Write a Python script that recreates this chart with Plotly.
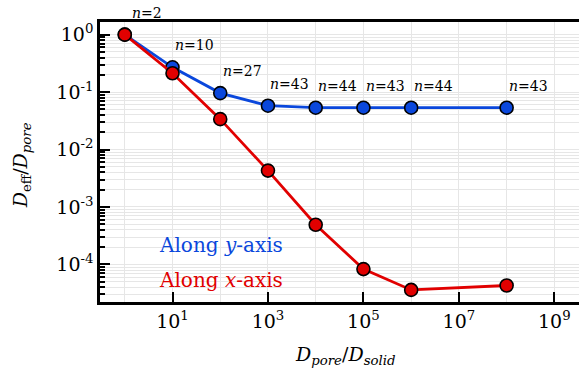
import math
import plotly.graph_objects as go

ratio = [1, 10, 100, 1e3, 1e4, 1e5, 1e6, 1e8]
d_along_y = [1.0, 0.27, 0.096, 0.058, 0.0535, 0.0535, 0.0535, 0.0535]
d_along_x = [1.0, 0.213, 0.0338, 0.0043, 0.00049, 8.3e-5, 3.6e-5, 4.3e-5]
n_labels = ["2", "10", "27", "43", "44", "43", "44", "43"]

x_tickvals = [1e1, 1e3, 1e5, 1e7, 1e9]
x_ticktext = ["10<sup>1</sup>", "10<sup>3</sup>", "10<sup>5</sup>", "10<sup>7</sup>", "10<sup>9</sup>"]
y_tickvals = [1, 1e-1, 1e-2, 1e-3, 1e-4]
y_ticktext = ["10<sup>0</sup>", "10<sup>-1</sup>", "10<sup>-2</sup>", "10<sup>-3</sup>", "10<sup>-4</sup>"]

BLUE = "#0a47dc"
RED = "#e10000"
FONT = "DejaVu Serif"

# body margin is removed by post_script, so page pixels == figure pixels
L, R, T, B = 100, 579, 22, 302
W, H = R - L, B - T

fig = go.Figure()
fig.add_trace(go.Scatter(x=ratio, y=d_along_y, mode="lines+markers",
                         line=dict(color=BLUE, width=2.8),
                         marker=dict(size=13, color=BLUE, line=dict(color="black", width=1.6)),
                         showlegend=False))
fig.add_trace(go.Scatter(x=ratio, y=d_along_x, mode="lines+markers",
                         line=dict(color=RED, width=2.8),
                         marker=dict(size=13, color=RED, line=dict(color="black", width=1.6)),
                         showlegend=False))

for xv, yv, n in zip(ratio, d_along_y, n_labels):
    fig.add_annotation(x=math.log10(xv), y=math.log10(yv), xref="x", yref="y",
                       text=f"<i>n</i>={n}", showarrow=False, xshift=22, yshift=22,
                       xanchor="center", yanchor="middle",
                       font=dict(family=FONT, size=14, color="black"))


def px(x):
    return (x - L) / W


def py(y):
    return (B - y) / H


fig.add_annotation(x=px(220), y=py(245), xref="paper", yref="paper", text="Along <i>y</i>-axis",
                   showarrow=False, xanchor="center", yanchor="middle",
                   font=dict(family=FONT, size=20, color=BLUE))
fig.add_annotation(x=px(220), y=py(280), xref="paper", yref="paper", text="Along <i>x</i>-axis",
                   showarrow=False, xanchor="center", yanchor="middle",
                   font=dict(family=FONT, size=20, color=RED))
fig.add_annotation(x=px(343), y=py(355), xref="paper", yref="paper",
                   text="<i>D</i><sub><i>pore</i></sub>/<i>D</i><sub><i>solid</i></sub>",
                   showarrow=False, xanchor="center", yanchor="middle",
                   font=dict(family=FONT, size=19, color="black"))
fig.add_annotation(x=px(22), y=py(165), xref="paper", yref="paper",
                   text="<i>D</i><sub>eff</sub>/<i>D</i><sub><i>pore</i></sub>",
                   showarrow=False, xanchor="center", yanchor="middle", textangle=-90,
                   font=dict(family=FONT, size=19, color="black"))

GRID = "#e6e6e6"
minor_y = [m * 10 ** e for e in range(-5, 1) for m in range(2, 10)]
minor_x = [10 ** e for e in range(0, 10)]

fig.update_xaxes(type="log", range=[-0.519, 9.6], automargin=False,
                 tickmode="array", tickvals=x_tickvals, ticktext=x_ticktext,
                 ticks="inside", ticklen=10, tickwidth=2, tickcolor="black",
                 showline=True, linecolor="black", linewidth=2.5, mirror=True,
                 showgrid=True, gridcolor=GRID, gridwidth=1, zeroline=False,
                 minor=dict(tickvals=minor_x, ticks="", showgrid=True, gridcolor=GRID, gridwidth=1),
                 tickfont=dict(family=FONT, size=19, color="black"))
fig.update_yaxes(type="log", range=[-4.654, 0.22], automargin=False,
                 tickmode="array", tickvals=y_tickvals, ticktext=y_ticktext,
                 ticks="inside", ticklen=10, tickwidth=2, tickcolor="black",
                 showline=True, linecolor="black", linewidth=2.5, mirror=False,
                 showgrid=True, gridcolor=GRID, gridwidth=1, zeroline=False,
                 minor=dict(tickvals=minor_y, ticks="inside", ticklen=5, tickwidth=1.5,
                            tickcolor="black", showgrid=True, gridcolor=GRID, gridwidth=1),
                 tickfont=dict(family=FONT, size=19, color="black"))

# plot area extends a little past the window's right edge, as in the reference
fig.update_layout(width=583, height=375,
                  margin=dict(l=L, r=0, t=T, b=375 - B),
                  font=dict(family=FONT),
                  plot_bgcolor="white", paper_bgcolor="white")

fig.write_html("out.html", config={"displayModeBar": False},
               post_script="document.body.style.margin='0';document.body.style.overflow='hidden';")
